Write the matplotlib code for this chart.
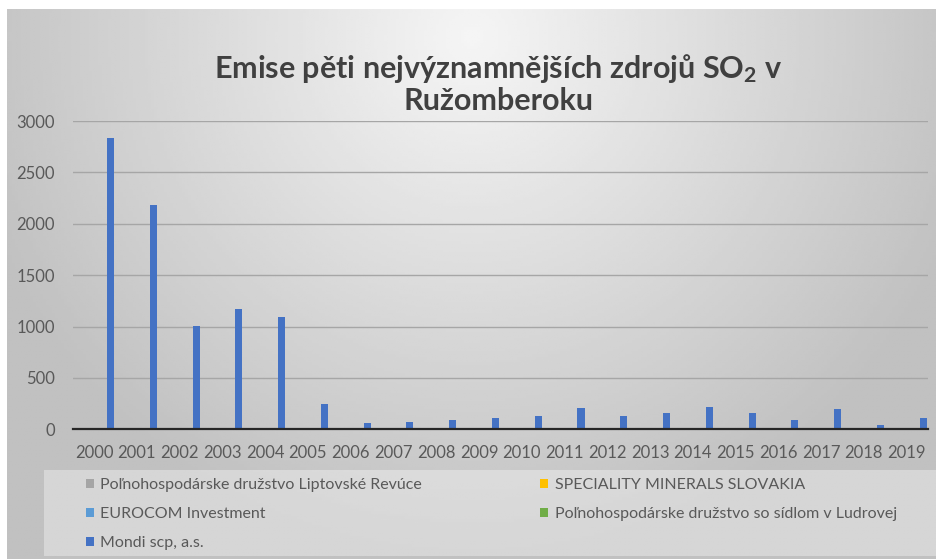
import numpy as np
import matplotlib.pyplot as plt
from matplotlib.patches import Rectangle

# data (t SO2 per year)
years = ["2000", "2001", "2002", "2003", "2004", "2005", "2006", "2007", "2008", "2009",
         "2010", "2011", "2012", "2013", "2014", "2015", "2016", "2017", "2018", "2019"]
series_names = [
    "Poľnohospodárske družstvo Liptovské Revúce",
    "SPECIALITY MINERALS SLOVAKIA",
    "EUROCOM Investment",
    "Poľnohospodárske družstvo so sídlom v Ludrovej",
    "Mondi scp, a.s.",
]
liptovske_revuce = [0, 0, 0, 0, 0, 0, 0, 0, 0, 0, 0, 0, 0, 0, 0, 0, 0, 0, 0, 0]
speciality_minerals = [0, 0, 0, 0, 0, 0, 0, 0, 0, 0, 0, 0, 0, 0, 0, 0, 0, 0, 0, 0]
eurocom = [0, 0, 0, 0, 0, 0, 0, 0, 0, 0, 0, 0, 0, 0, 0, 0, 0, 0, 0, 0]
ludrova = [0, 0, 0, 0, 0, 0, 0, 0, 0, 0, 0, 0, 0, 0, 0, 0, 0, 0, 0, 0]
mondi = [2830, 2185, 1005, 1168, 1088, 244, 62, 70, 95, 112,
         128, 207, 128, 161, 217, 155, 86, 194, 46, 108]
series_colors = ["#A5A5A5", "#FFC000", "#5B9BD5", "#70AD47", "#4472C4"]

plt.rcParams['font.family'] = ['Lato', 'DejaVu Sans']
plt.rcParams['mathtext.fontset'] = 'custom'
plt.rcParams['mathtext.rm'] = 'Lato:bold'
plt.rcParams['mathtext.default'] = 'rm'

fig = plt.figure(figsize=(9.37, 5.59), dpi=100)

# gray gradient background of the chart area
bg = fig.add_axes([7 / 937, 0, 930 / 937, 550 / 559], zorder=-10)
gx, gy = np.meshgrid(np.linspace(0, 1, 300), np.linspace(0, 1, 200))
r = np.sqrt(((gx - 0.5) / 0.62) ** 2 + ((gy - 0.05) / 1.05) ** 2)
shade = np.clip(245 - 58 * r, 193, 245) / 255
bg.imshow(shade, cmap='gray', vmin=0, vmax=1, aspect='auto', extent=[0, 1, 1, 0])
bg.set_axis_off()

# lighter legend panel
fig.patches.append(Rectangle((44 / 937, 3 / 559), 893 / 937, 86 / 559,
                             transform=fig.transFigure, facecolor='white',
                             alpha=0.35, edgecolor='none', zorder=-5))

ax = fig.add_axes([72.7 / 937, 1 - 429.3 / 559, 855.3 / 937, 308.3 / 559])
ax.patch.set_alpha(0)

all_series = [liptovske_revuce, speciality_minerals, eurocom, ludrova, mondi]
x = np.arange(len(years))
step = 0.193
bars = []
for i, (name, vals, col) in enumerate(zip(series_names, all_series, series_colors)):
    b = ax.bar(x + (i - 2) * step, vals, width=0.165, color=col, label=name, zorder=3)
    bars.append(b)

ax.set_xlim(-0.5, len(years) - 0.5)
ax.set_ylim(0, 3000)
ax.set_yticks([0, 500, 1000, 1500, 2000, 2500, 3000])
ax.set_xticks(x)
ax.set_xticklabels(years)
ax.grid(axis='y', color='#A6A6A6', linewidth=1.0, zorder=0)
for s in ['top', 'right', 'left']:
    ax.spines[s].set_visible(False)
ax.spines['bottom'].set_color('#262626')
ax.spines['bottom'].set_linewidth(1.6)
ax.spines['bottom'].set_zorder(4)
ax.tick_params(axis='both', length=0, labelsize=12, labelcolor='#595959')
ax.tick_params(axis='y', pad=13)
ax.tick_params(axis='x', pad=11)

fig.text(0.532, 0.85, "Emise pěti nejvýznamnějších zdrojů SO$_2$ v\nRužomberoku",
         ha='center', va='center', fontsize=22, fontweight='bold', color='#404040',
         linespacing=1.1)

order = [0, 2, 4, 1, 3]
leg = fig.legend([bars[k] for k in order], [series_names[k] for k in order],
                 ncol=2, loc='upper left', bbox_to_anchor=(86 / 937, 1 - 478 / 559),
                 frameon=False, fontsize=11.5, handlelength=0.5, handleheight=0.5,
                 handletextpad=0.4, columnspacing=7.4, labelspacing=0.95,
                 borderpad=0, borderaxespad=0)
for t in leg.get_texts():
    t.set_color('#595959')

fig.savefig("out.png", dpi=100)
